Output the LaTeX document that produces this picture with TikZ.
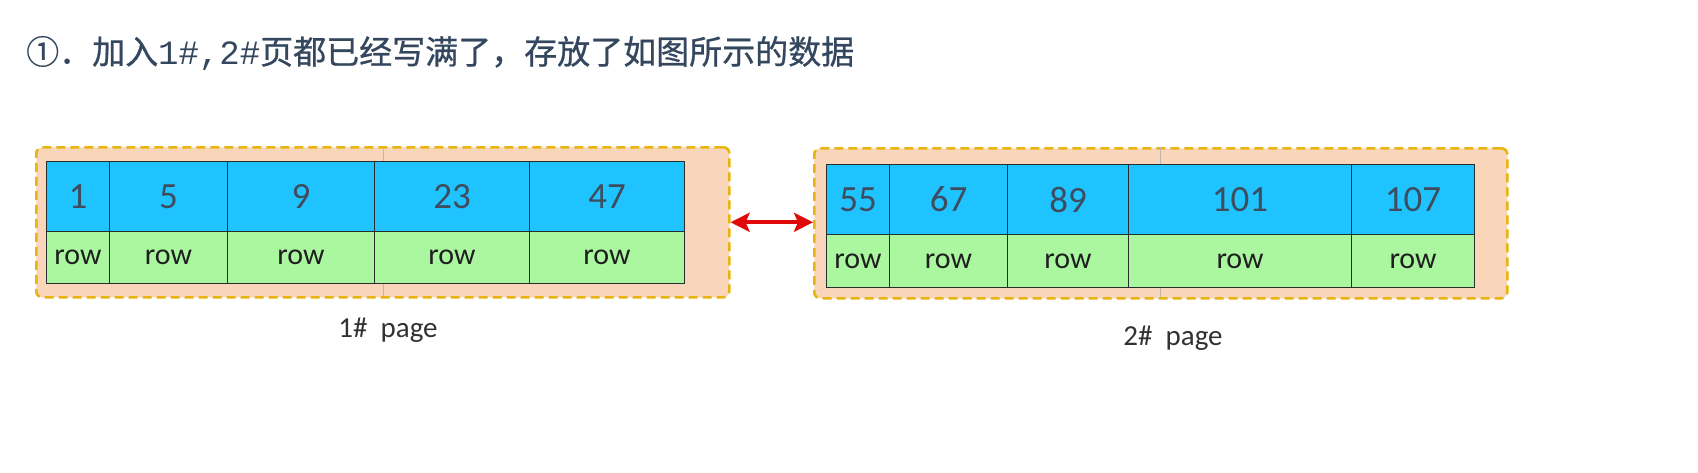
\documentclass[tikz,border=0pt]{standalone}
\usepackage{fontspec}
\setmainfont{Carlito}
\newfontfamily\cjkfont[FakeBold=0.7]{Noto Sans CJK SC}
\newfontfamily\monofont{Liberation Mono}
\usetikzlibrary{arrows.meta}
\definecolor{keyblue}{RGB}{30,195,255}
\definecolor{rowgreen}{RGB}{170,247,160}
\definecolor{pagefill}{RGB}{249,214,186}
\definecolor{pagedash}{RGB}{232,180,16}
\definecolor{numtext}{RGB}{62,76,94}
\definecolor{titletext}{RGB}{52,71,94}
\definecolor{gridline}{RGB}{40,45,45}
\definecolor{labeltext}{RGB}{50,50,50}
\definecolor{linkred}{RGB}{225,10,10}
\begin{document}
\begin{tikzpicture}[x=1pt,y=-1pt,
  pagebox/.style={draw=pagedash, fill=pagefill, line width=2.6pt, dash pattern=on 9pt off 5pt, rounded corners=6pt, anchor=north west, inner sep=0pt},
  keycell/.style={draw=gridline, fill=keyblue, line width=1.1pt, anchor=north west, inner sep=0pt, text=numtext, font=\fontsize{37}{40}\selectfont},
  rowcell/.style={draw=gridline, fill=rowgreen, line width=1.1pt, anchor=north west, inner sep=0pt, text=black!88, font=\fontsize{30}{34}\selectfont},
  pagelabel/.style={inner sep=0pt, text=labeltext, font=\fontsize{29}{32}\selectfont},
  divmark/.style={draw=gray!55, line width=0.6pt},
  linkarrow/.style={draw=linkred, line width=4pt, {Stealth[length=19pt,width=19pt,inset=4pt]}-{Stealth[length=19pt,width=19pt,inset=4pt]}}
]
\fill[white] (0,0) rectangle (1698,472);
\useasboundingbox (0,0) rectangle (1698,472);

% title
\node[anchor=base west, inner sep=0pt, text=titletext, font=\cjkfont\fontsize{33}{40}\selectfont] (title) at (26,64)
  {①．加入{\monofont\fontsize{34}{40}\selectfont 1\#,2\#}页都已经写满了，存放了如图所示的数据};

% page 1
\node[pagebox, minimum width=693pt, minimum height=150pt] (p1) at (35,146) {};
\draw[divmark] (383,146) -- (383,161) (383,283) -- (383,296);
\foreach \l/\r/\t [count=\i] in {46/109/1,109/227/5,227/374/9,374/529/23,529/684/47} {
  \pgfmathsetmacro{\w}{\r-\l}
  \node[keycell, minimum width=\w pt, minimum height=70pt] (a\i) at (\l,161) {\t};
  \node[rowcell, minimum width=\w pt, minimum height=52pt] (ar\i) at (\l,231) {row};
}
\node[pagelabel] (l1) at (388,330) {1\#~ page};

% page 2
\node[pagebox, minimum width=693pt, minimum height=150pt] (p2) at (813,147) {};
\draw[divmark] (1160,147) -- (1160,164) (1160,287) -- (1160,297);
\foreach \l/\r/\t [count=\i] in {826/889/55,889/1007/67,1007/1128/89,1128/1351/101,1351/1474/107} {
  \pgfmathsetmacro{\w}{\r-\l}
  \node[keycell, minimum width=\w pt, minimum height=70pt] (b\i) at (\l,164) {\t};
  \node[rowcell, minimum width=\w pt, minimum height=53pt] (br\i) at (\l,234) {row};
}
\node[pagelabel] (l2) at (1173,338) {2\#~ page};

% link
\draw[linkarrow] (p1.east) -- (p1.east -| p2.west);
\end{tikzpicture}
\end{document}
